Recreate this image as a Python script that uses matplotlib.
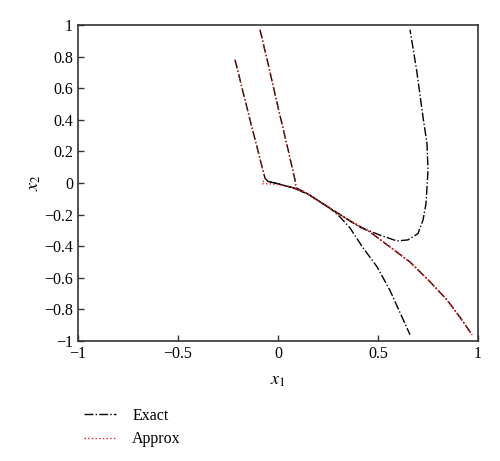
import matplotlib
matplotlib.use("Agg")
import matplotlib.pyplot as plt

plt.rcParams['font.family'] = ['Liberation Serif', 'DejaVu Serif']
plt.rcParams['mathtext.fontset'] = 'stix'

# Exact trajectories
e1_x = [-0.215, -0.14, -0.065, -0.05, 0.0, 0.075, 0.15, 0.26, 0.31, 0.36, 0.425, 0.495, 0.56, 0.61, 0.66]
e1_y = [0.78, 0.40, 0.03, 0.01, -0.005, -0.03, -0.07, -0.16, -0.215, -0.285, -0.41, -0.53, -0.68, -0.82, -0.96]

e2_x = [-0.09, -0.045, 0.0, 0.045, 0.085, 0.09, 0.15, 0.26, 0.36, 0.46, 0.56, 0.66, 0.76, 0.845, 0.91, 0.97]
e2_y = [0.97, 0.73, 0.48, 0.24, 0.02, -0.03, -0.07, -0.16, -0.24, -0.31, -0.405, -0.50, -0.625, -0.74, -0.85, -0.96]

e3_x = [-0.05, 0.0, 0.075, 0.15, 0.26, 0.41, 0.51, 0.595, 0.65, 0.70, 0.725, 0.74, 0.75, 0.745, 0.727, 0.693, 0.66]
e3_y = [0.01, -0.005, -0.03, -0.07, -0.16, -0.28, -0.33, -0.367, -0.36, -0.32, -0.235, -0.13, 0.08, 0.25, 0.40, 0.715, 0.97]

# Approximate trajectories
a1_x = [-0.215, -0.14, -0.065, -0.08, -0.04, 0.0, 0.075, 0.15, 0.26, 0.36, 0.46, 0.56, 0.66, 0.76, 0.845, 0.91, 0.97]
a1_y = [0.78, 0.40, 0.03, -0.005, -0.005, -0.01, -0.03, -0.07, -0.16, -0.24, -0.31, -0.405, -0.50, -0.625, -0.74, -0.85, -0.96]

a2_x = e2_x
a2_y = e2_y

xticks = [-1, -0.5, 0, 0.5, 1]
yticks = [-1, -0.8, -0.6, -0.4, -0.2, 0, 0.2, 0.4, 0.6, 0.8, 1]

fig = plt.figure(figsize=(5, 4.61), dpi=100)
ax = fig.add_axes([0.156, 0.2603, 0.8, 0.6855])

lw = 1.0
h_exact, = ax.plot(e1_x, e1_y, color='black', linestyle='-.', linewidth=lw, label='Exact')
ax.plot(e2_x, e2_y, color='black', linestyle='-.', linewidth=lw)
ax.plot(e3_x, e3_y, color='black', linestyle='-.', linewidth=lw)
h_approx, = ax.plot(a1_x, a1_y, color='#e02020', linestyle=':', linewidth=lw, label='Approx')
ax.plot(a2_x, a2_y, color='#e02020', linestyle=':', linewidth=lw)

ax.set_xlim(-1, 1)
ax.set_ylim(-1, 1)
ax.set_xticks(xticks)
ax.set_yticks(yticks)
ax.set_xticklabels(['\u22121', '\u22120.5', '0', '0.5', '1'])
ax.set_yticklabels([('\u2212' + f'{abs(v):g}') if v < 0 else f'{v:g}' for v in yticks])
ax.tick_params(direction='in', length=4, width=1, labelsize=11.5, color='#333333')
for s in ax.spines.values():
    s.set_linewidth(1.2)
    s.set_color('#333333')

ax.set_xlabel('$x_1$', fontsize=13, labelpad=7)
ax.set_ylabel('$x_2$', fontsize=13, labelpad=1)

fig.legend(handles=[h_exact, h_approx], loc='upper left', bbox_to_anchor=(0.14, 0.146),
           frameon=False, fontsize=11.5, handlelength=2.0, handletextpad=1.0, labelspacing=0.45)

fig.savefig('out.png', dpi=100)
